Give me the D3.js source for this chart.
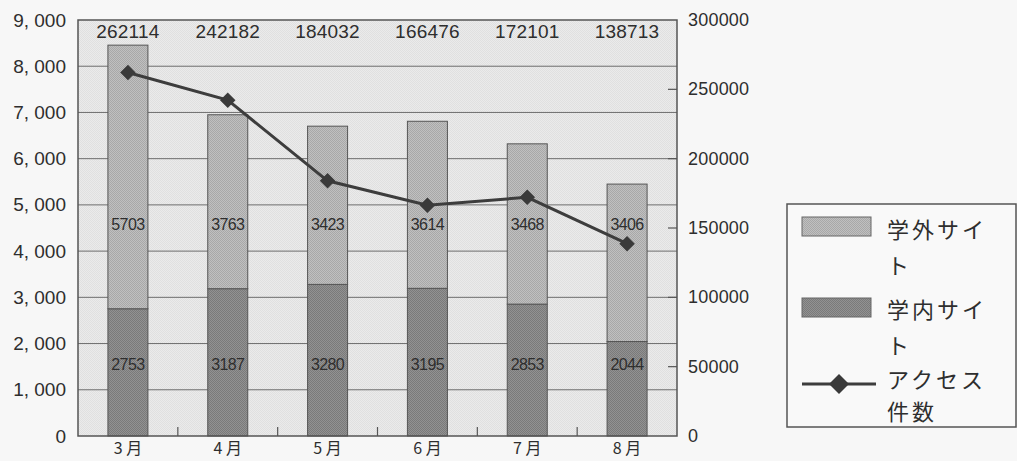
<!DOCTYPE html>
<html>
<head>
<meta charset="utf-8">
<script src="https://cdn.jsdelivr.net/npm/d3@7"></script>
<style>
  html, body { margin: 0; padding: 0; background: #f7f7f7; }
  svg { display: block; }
  text { font-family: "Liberation Sans", "Noto Sans CJK JP", sans-serif; fill: #2e2e2e; }
  .jp { font-family: "Noto Sans CJK JP", sans-serif; }
</style>
</head>
<body>
<svg id="chart" width="1017" height="461"></svg>
<script>
// Monthly access figures
const months = ["3 月", "4 月", "5 月", "6 月", "7 月", "8 月"];
const insideSite = [2753, 3187, 3280, 3195, 2853, 2044];   // 学内サイト
const outsideSite = [5703, 3763, 3423, 3614, 3468, 3406];  // 学外サイト
const accessCount = [262114, 242182, 184032, 166476, 172101, 138713]; // アクセス件数
const leftTicks = [0, 1000, 2000, 3000, 4000, 5000, 6000, 7000, 8000, 9000];
const rightTicks = [0, 50000, 100000, 150000, 200000, 250000, 300000];

const svg = d3.select("#chart");
const plot = { left: 78, right: 677, top: 20, bottom: 436 };

const x = d3.scaleBand().domain(months).range([plot.left, plot.right]).paddingInner(0).paddingOuter(0);
const yL = d3.scaleLinear().domain([0, 9000]).range([plot.bottom, plot.top]);
const yR = d3.scaleLinear().domain([0, 300000]).range([plot.bottom, plot.top]);

// dithered fills
const defs = svg.append("defs");
function dither(id, base, dot) {
  const p = defs.append("pattern").attr("id", id).attr("width", 2).attr("height", 2)
    .attr("patternUnits", "userSpaceOnUse");
  p.append("rect").attr("width", 2).attr("height", 2).attr("fill", base);
  p.append("rect").attr("width", 1).attr("height", 1).attr("fill", dot);
  p.append("rect").attr("x", 1).attr("y", 1).attr("width", 1).attr("height", 1).attr("fill", dot);
}
dither("pOut", "#c0c0c0", "#a8a8a8");
dither("pIn", "#929292", "#7a7a7a");
dither("pBg", "#ebebeb", "#e0e0e0");

// plot background
svg.append("rect").attr("x", plot.left).attr("y", plot.top)
  .attr("width", plot.right - plot.left).attr("height", plot.bottom - plot.top)
  .attr("fill", "url(#pBg)");

// horizontal gridlines
svg.append("g").selectAll("line").data(leftTicks.slice(1, -1)).join("line")
  .attr("x1", plot.left).attr("x2", plot.right)
  .attr("y1", d => yL(d)).attr("y2", d => yL(d))
  .attr("stroke", "#6e6e6e").attr("stroke-width", 1);

// stacked bars
const barW = 40;
const bars = svg.append("g");
months.forEach((m, i) => {
  const cx = x(m) + x.bandwidth() / 2;
  bars.append("rect").attr("x", cx - barW / 2).attr("width", barW)
    .attr("y", yL(insideSite[i])).attr("height", yL(0) - yL(insideSite[i]))
    .attr("fill", "url(#pIn)").attr("stroke", "#555").attr("stroke-width", 1);
  const top = insideSite[i] + outsideSite[i];
  bars.append("rect").attr("x", cx - barW / 2).attr("width", barW)
    .attr("y", yL(top)).attr("height", yL(insideSite[i]) - yL(top))
    .attr("fill", "url(#pOut)").attr("stroke", "#555").attr("stroke-width", 1);
});

// segment value labels
const outLabelY = yL(4575), inLabelY = yL(1555);
svg.append("g").selectAll("text").data(months).join("text")
  .attr("x", d => x(d) + x.bandwidth() / 2).attr("y", outLabelY)
  .attr("text-anchor", "middle").attr("dominant-baseline", "central")
  .attr("font-size", 16).attr("letter-spacing", -0.6)
  .text((d, i) => outsideSite[i]);
svg.append("g").selectAll("text").data(months).join("text")
  .attr("x", d => x(d) + x.bandwidth() / 2).attr("y", inLabelY)
  .attr("text-anchor", "middle").attr("dominant-baseline", "central")
  .attr("font-size", 16).attr("letter-spacing", -0.6)
  .text((d, i) => insideSite[i]);

// access count labels along the top
svg.append("g").selectAll("text").data(months).join("text")
  .attr("x", d => x(d) + x.bandwidth() / 2).attr("y", 38)
  .attr("text-anchor", "middle").attr("font-size", 19).attr("letter-spacing", 0.2)
  .text((d, i) => accessCount[i]);

// access count line
const pts = months.map((m, i) => [x(m) + x.bandwidth() / 2, yR(accessCount[i])]);
svg.append("path").attr("d", d3.line()(pts))
  .attr("fill", "none").attr("stroke", "#3d3d3d").attr("stroke-width", 3);
svg.append("g").selectAll("path").data(pts).join("path")
  .attr("transform", d => `translate(${d[0]},${d[1]}) rotate(45)`)
  .attr("d", d3.symbol().type(d3.symbolSquare).size(120))
  .attr("fill", "#3a3a3a");

// plot frame
svg.append("rect").attr("x", plot.left).attr("y", plot.top)
  .attr("width", plot.right - plot.left).attr("height", plot.bottom - plot.top)
  .attr("fill", "none").attr("stroke", "#555").attr("stroke-width", 1.5);

// bottom category ticks (pointing up inside the plot)
const bounds = months.slice(1).map(m => x(m));
svg.append("g").selectAll("line").data(bounds).join("line")
  .attr("x1", d => d).attr("x2", d => d)
  .attr("y1", plot.bottom).attr("y2", plot.bottom - 9)
  .attr("stroke", "#555").attr("stroke-width", 1.2);

// right axis ticks (pointing inward)
svg.append("g").selectAll("line").data(rightTicks.slice(1, -1)).join("line")
  .attr("x1", plot.right).attr("x2", plot.right - 9)
  .attr("y1", d => yR(d)).attr("y2", d => yR(d))
  .attr("stroke", "#555").attr("stroke-width", 1.2);

// left axis labels
const fmt = d => d3.format(",")(d).replace(",", ", ");
svg.append("g").selectAll("text").data(leftTicks).join("text")
  .attr("x", 66).attr("y", d => yL(d)).attr("dominant-baseline", "central")
  .attr("text-anchor", "end").attr("font-size", 19)
  .attr("xml:space", "preserve")
  .text(fmt);

// right axis labels
svg.append("g").selectAll("text").data(rightTicks).join("text")
  .attr("x", 688).attr("y", d => yR(d)).attr("dominant-baseline", "central")
  .attr("text-anchor", "start").attr("font-size", 18).attr("letter-spacing", 0.2)
  .text(d => d);

// month labels
svg.append("g").selectAll("text").data(months).join("text")
  .attr("class", "jp")
  .attr("x", d => x(d) + x.bandwidth() / 2).attr("y", 454)
  .attr("text-anchor", "middle")
  .attr("font-size", 16).attr("xml:space", "preserve")
  .text(d => d);

// legend
const lg = svg.append("g");
lg.append("rect").attr("x", 787).attr("y", 204).attr("width", 229).attr("height", 223)
  .attr("fill", "#f9f9f9").attr("stroke", "#555").attr("stroke-width", 1.5);
lg.append("rect").attr("x", 802).attr("y", 217).attr("width", 69).attr("height", 19)
  .attr("fill", "url(#pOut)").attr("stroke", "#666");
lg.append("rect").attr("x", 802).attr("y", 298).attr("width", 69).attr("height", 19)
  .attr("fill", "url(#pIn)").attr("stroke", "#666");
lg.append("line").attr("x1", 802).attr("x2", 876).attr("y1", 384).attr("y2", 384)
  .attr("stroke", "#3d3d3d").attr("stroke-width", 3);
lg.append("path").attr("transform", "translate(839,384) rotate(45)")
  .attr("d", d3.symbol().type(d3.symbolSquare).size(200)).attr("fill", "#3a3a3a");

const legendLines = [
  ["学外サイ", 228], ["ト", 264],
  ["学内サイ", 308], ["ト", 344],
  ["アクセス", 378], ["件数", 410]
];
lg.selectAll("text.lt").data(legendLines).join("text")
  .attr("class", "lt jp")
  .attr("x", 887).attr("y", d => d[1]).attr("dominant-baseline", "central")
  .attr("font-size", 22).attr("letter-spacing", 3)
  .text(d => d[0]);
</script>
</body>
</html>
